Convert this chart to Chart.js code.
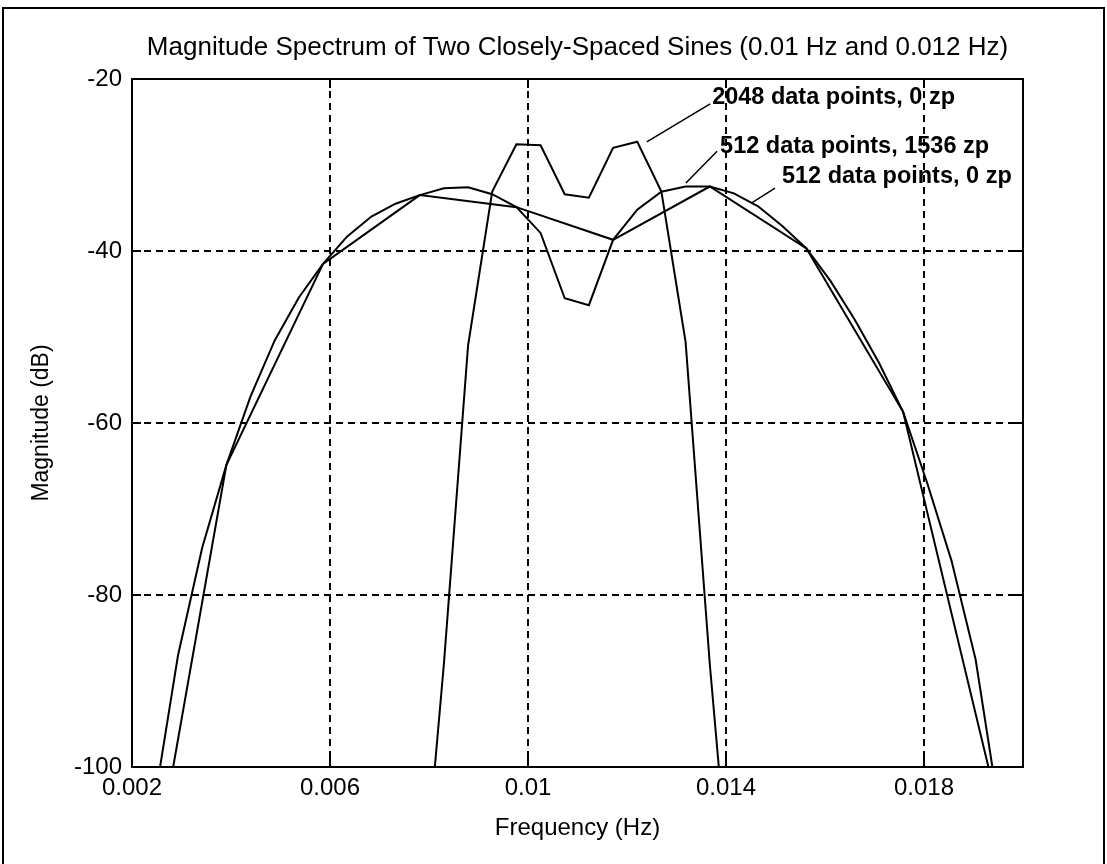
<!DOCTYPE html>
<html lang="en">
<head>
<meta charset="UTF-8">
<title>Magnitude Spectrum</title>
<style>
    body { margin: 0; background: #fff; }
    #wrap { width: 1107px; height: 864px; }
</style>
<script src="https://cdn.jsdelivr.net/npm/chart.js"></script>
</head>
<body>
<div id="wrap"><canvas id="spec" width="1107" height="864"></canvas></div>
<script>
// frequency bins (Hz) and magnitudes (dB)
const freqZp = [0.001953, 0.002441, 0.002930, 0.003418, 0.003906, 0.004395, 0.004883, 0.005371,
    0.005859, 0.006348, 0.006836, 0.007324, 0.007813, 0.008301, 0.008789, 0.009277, 0.009766,
    0.010254, 0.010742, 0.011230, 0.011719, 0.012207, 0.012695, 0.013184, 0.013672, 0.014160,
    0.014648, 0.015137, 0.015625, 0.016113, 0.016602, 0.017090, 0.017578, 0.018066, 0.018555,
    0.019043, 0.019531, 0.020020];
const magZp = [-128.7, -104.5, -87, -74.5, -64.9, -56.9, -50.4, -45.4,
    -41.5, -38.3, -36.0, -34.5, -33.5, -32.7, -32.6, -33.4, -34.9,
    -37.9, -45.5, -46.3, -38.7, -35.2, -33.1, -32.5, -32.5, -33.3,
    -34.8, -37.1, -39.7, -43.5, -48.0, -53.0, -58.7, -67.0, -76.0,
    -87.5, -105.5, -135];

const freq512 = [0.001953, 0.003906, 0.005859, 0.007813, 0.009766, 0.011719, 0.013672,
    0.015625, 0.017578, 0.019531];
const mag512 = [-128.7, -64.9, -41.5, -33.5, -34.9, -38.7, -32.5, -39.7, -58.7, -105.5];

const freq2048 = [0.007813, 0.008301, 0.008789, 0.009277, 0.009766, 0.010254, 0.010742,
    0.011230, 0.011719, 0.012207, 0.012695, 0.013184, 0.013672, 0.014160];
const mag2048 = [-120, -88, -51, -33.1, -27.6, -27.7, -33.4, -33.8, -28.0, -27.3, -33.1,
    -50.6, -88, -120];

const xTicks = [0.002, 0.006, 0.01, 0.014, 0.018];
const yTicks = [-100, -80, -60, -40, -20];

const titleText = 'Magnitude Spectrum of Two Closely-Spaced Sines (0.01 Hz and 0.012 Hz)';

// curve labels with their leader lines, in data units
const noteText = ['2048 data points, 0 zp', '512 data points, 1536 zp', '512 data points, 0 zp'];
const noteAt = [[0.01372, -22.1], [0.01388, -27.8], [0.01513, -31.3]];
const noteLine = [[0.01368, -22.9, 0.01240, -27.3], [0.01382, -28.4, 0.01319, -32.1],
    [0.01499, -32.7, 0.01452, -34.4]];

const FONT = 'Arial, "Liberation Sans", Helvetica, sans-serif';

function toPoints(xs, ys) {
    return xs.map((x, i) => ({ x: x, y: ys[i] }));
}

function curve(label, xs, ys) {
    return {
        label: label,
        data: toPoints(xs, ys),
        showLine: true,
        borderColor: '#000',
        borderWidth: 2,
        pointRadius: 0,
        tension: 0
    };
}

const frame = {
    id: 'frame',
    afterDatasetsDraw(chart) {
        const ctx = chart.ctx;
        const a = chart.chartArea;
        const xs = chart.scales.x, ys = chart.scales.y;
        ctx.save();
        ctx.strokeStyle = '#000';
        ctx.fillStyle = '#000';
        ctx.lineWidth = 2;
        ctx.strokeRect(a.left, a.top, a.right - a.left, a.bottom - a.top);

        // ticks point inward on all four sides
        const len = 9;
        ctx.beginPath();
        xTicks.forEach(v => {
            const p = xs.getPixelForValue(v);
            ctx.moveTo(p, a.bottom); ctx.lineTo(p, a.bottom - len);
            ctx.moveTo(p, a.top); ctx.lineTo(p, a.top + len);
        });
        yTicks.forEach(v => {
            const p = ys.getPixelForValue(v);
            ctx.moveTo(a.left, p); ctx.lineTo(a.left + len, p);
            ctx.moveTo(a.right, p); ctx.lineTo(a.right - len, p);
        });
        ctx.stroke();

        // figure border (its lower edge falls below the canvas)
        ctx.strokeRect(3, 8, chart.width - 6, chart.height + 10);

        // title, centred over the axes
        ctx.font = '26px ' + FONT;
        ctx.textAlign = 'center';
        ctx.textBaseline = 'middle';
        ctx.fillText(titleText, (a.left + a.right) / 2, 48);

        // curve labels
        ctx.lineWidth = 1.5;
        ctx.beginPath();
        noteLine.forEach(l => {
            ctx.moveTo(xs.getPixelForValue(l[0]), ys.getPixelForValue(l[1]));
            ctx.lineTo(xs.getPixelForValue(l[2]), ys.getPixelForValue(l[3]));
        });
        ctx.stroke();
        ctx.font = 'bold 23.5px ' + FONT;
        ctx.textAlign = 'left';
        noteText.forEach((t, i) => {
            ctx.fillText(t, xs.getPixelForValue(noteAt[i][0]), ys.getPixelForValue(noteAt[i][1]));
        });
        ctx.restore();
    }
};

new Chart(document.getElementById('spec'), {
    type: 'scatter',
    data: {
        datasets: [
            curve('512 data points, 1536 zp', freqZp, magZp),
            curve('512 data points, 0 zp', freq512, mag512),
            curve('2048 data points, 0 zp', freq2048, mag2048)
        ]
    },
    options: {
        responsive: false,
        animation: false,
        layout: { padding: { left: 0, right: 84, top: 79, bottom: 0 } },
        plugins: {
            legend: { display: false },
            tooltip: { enabled: false },
            title: { display: false }
        },
        scales: {
            x: {
                type: 'linear',
                min: 0.002,
                max: 0.02,
                afterBuildTicks: s => { s.ticks = xTicks.map(v => ({ value: v })); },
                afterFit: s => { s.height = 97; },
                ticks: {
                    color: '#000',
                    padding: 7,
                    maxRotation: 0,
                    font: { family: FONT, size: 24 },
                    callback: v => String(v)
                },
                grid: { color: '#000', lineWidth: 2, drawTicks: false },
                border: { display: false, dash: [7, 5] },
                title: {
                    display: true,
                    text: 'Frequency (Hz)',
                    color: '#000',
                    font: { family: FONT, size: 24, lineHeight: 1.2 },
                    padding: { top: 0, bottom: 21.6 }
                }
            },
            y: {
                type: 'linear',
                min: -100,
                max: -20,
                afterBuildTicks: s => { s.ticks = yTicks.map(v => ({ value: v })); },
                afterFit: s => { s.width = 132; },
                ticks: {
                    color: '#000',
                    padding: 10,
                    font: { family: FONT, size: 24 },
                    callback: v => String(v)
                },
                grid: { color: '#000', lineWidth: 2, drawTicks: false },
                border: { display: false, dash: [7, 5] },
                title: {
                    display: true,
                    text: 'Magnitude (dB)',
                    color: '#000',
                    font: { family: FONT, size: 23, lineHeight: 1.2 },
                    padding: { top: 28, bottom: 0 }
                }
            }
        }
    },
    plugins: [frame]
});
</script>
</body>
</html>
